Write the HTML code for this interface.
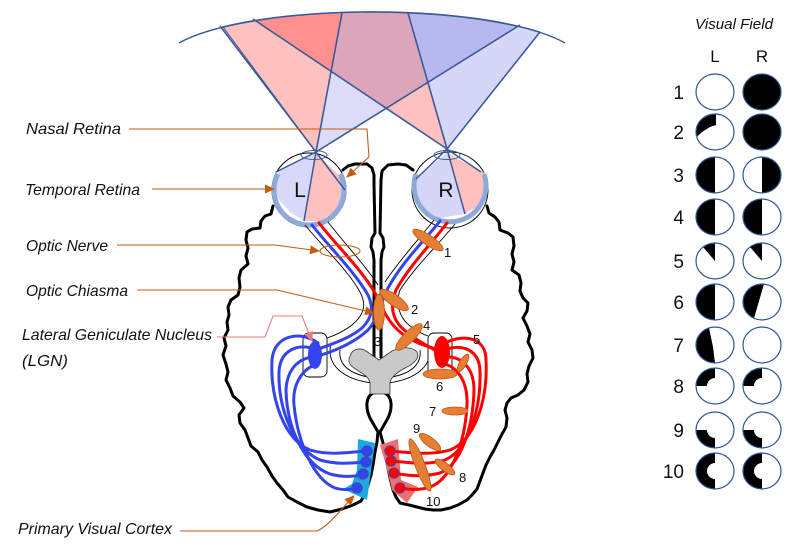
<!DOCTYPE html>
<html><head><meta charset="utf-8"><style>
html,body{margin:0;padding:0;background:#fff;}
svg{display:block;}
.lbl{font-family:"Liberation Sans",sans-serif;font-style:italic;font-size:16px;fill:#111;}
.num{font-family:"Liberation Sans",sans-serif;font-size:13px;fill:#111;}
.rn{font-family:"Liberation Sans",sans-serif;font-size:19px;fill:#111;}
</style></head><body>
<svg width="799" height="545" viewBox="0 0 799 545" xmlns="http://www.w3.org/2000/svg">
<defs>
<clipPath id="fanclip"><path d="M162,63 A210,51 0 0 1 582,63 L582,300 L162,300 Z"/></clipPath>
<marker id="arO" markerWidth="10" markerHeight="9" refX="9" refY="4.5" orient="auto" markerUnits="userSpaceOnUse"><path d="M0,0 L10,4.5 L0,9 Z" fill="#c55a11"/></marker>
<marker id="arP" markerWidth="10" markerHeight="9" refX="9" refY="4.5" orient="auto" markerUnits="userSpaceOnUse"><path d="M0,0 L10,4.5 L0,9 Z" fill="#ee7b7b"/></marker>
</defs>

<!-- Visual field fan -->
<g clip-path="url(#fanclip)">
 <polygon points="316,152 200,0 344,0" fill="#ffc0c0" style="mix-blend-mode:multiply"/>
 <polygon points="316,152 344,0 560,0" fill="#dcdcf8" style="mix-blend-mode:multiply"/>
 <polygon points="447,149 225,0 404,0" fill="#ffc0c0" style="mix-blend-mode:multiply"/>
 <polygon points="447,149 404,0 565,0" fill="#d6d6f8" style="mix-blend-mode:multiply"/>
</g>
<path d="M179,43 A210,51 0 0 1 565,43" fill="none" stroke="#3b5a9a" stroke-width="1.4"/>
<path d="M222,27 A210,51 0 0 1 540,32" fill="none" stroke="#3b5a9a" stroke-width="1"/>
<g stroke="#3b5a9a" stroke-width="1.6" fill="none">
 <line x1="220" y1="26" x2="316" y2="152"/>
 <line x1="223" y1="27" x2="316" y2="152" stroke-width="1"/>
 <line x1="342" y1="13" x2="316" y2="152"/>
 <line x1="520" y1="25" x2="316" y2="152"/>
 <line x1="253" y1="19" x2="447" y2="149"/>
 <line x1="408" y1="13" x2="447" y2="149"/>
 <line x1="540" y1="32" x2="447" y2="149"/>
</g>

<!-- Brain outline -->
<g fill="none" stroke="#000" stroke-width="3" stroke-linejoin="round" stroke-linecap="round">
 <polyline points="273,206 271,214 265,216 261,221 260,228 252,229 247,232 246,240 248,248 246,256 248,264 241,270 239,278 240,287 238,295 231,300 228,307 229,315 227,322 228,330 224,338 226,346 223,355 226,364 228,372 226,380 230,388 233,396 240,402 244,408 239,415 240,423 245,430 248,438 251,446 258,452 262,460 267,467 272,476 277,483 283,490 288,497 297,502 307,507 318,510 330,512 342,509 353,505 361,501 365,494 368,485 371,475 373,465 375,452 377,442 378,432"/>
 <polyline points="487,206 489,213 495,217 499,222 500,230 508,233 513,237 514,246 512,254 514,262 512,270 519,275 521,283 520,291 523,298 528,303 527,311 523,318 527,326 530,334 528,342 532,350 533,358 529,366 527,374 528,382 524,390 518,395 511,398 507,403 505,410 507,418 506,427 502,434 498,442 494,450 490,457 486,465 483,473 480,481 477,489 472,495 467,500 458,505 450,508 441,510 433,510 425,509 417,507 409,505 400,503 396,497 393,490 390,478 387,463 385,452 383,443 380,432"/>
 <polyline points="343,170 348,166 355,164 367,164 372,168 374,175 374,185 375,233 372,238 371,247 373,252 374,260 374,357"/>
 <polyline points="413,170 406,165 398,164 388,165 382,171 381,180 380,233 383,238 384,247 382,252 381,260 381,357"/>
 <path d="M379,392 C365,392 365,407 370,418 L378,432 M379,392 C393,392 393,407 388,418 L380,432"/>
</g>

<!-- Eyes -->
<circle cx="309" cy="190" r="37" fill="#fff" stroke="#000" stroke-width="1"/>
<circle cx="450" cy="190" r="38" fill="#fff" stroke="#000" stroke-width="1"/>
<polygon points="316,153 276,172 273,186 279,200 290,212 304,221" fill="#d8d8f8"/>
<polygon points="316,153 304,221 320,221 334,212 342,197 345,181" fill="#ffc0c0"/>
<polygon points="447,153 415,179 416,195 425,210 440,218 465,214" fill="#d6d6f8"/>
<polygon points="447,153 465,214 478,206 485,191 486,174" fill="#ffc0c0"/>
<path d="M277.8,174.1 A35,35 0 1 0 340.2,174.1" fill="none" stroke="#8eaadb" stroke-width="5"/>
<path d="M416,174 A36,36 0 1 0 484,174" fill="none" stroke="#8eaadb" stroke-width="5"/>
<g stroke="#3b5a9a" stroke-width="1.5" fill="none">
 <line x1="316" y1="152" x2="345" y2="190"/>
 <line x1="316" y1="152" x2="304" y2="221"/>
 <line x1="316" y1="152" x2="276" y2="172"/>
 <line x1="447" y1="149" x2="481" y2="172"/>
 <line x1="447" y1="149" x2="465" y2="214"/>
 <line x1="447" y1="149" x2="416" y2="179"/>
 <ellipse cx="314" cy="155" rx="13" ry="4.5" stroke-width="1"/>
 <ellipse cx="447" cy="155" rx="13" ry="4.5" stroke-width="1"/>
</g>
<text x="300" y="197" font-family="Liberation Sans, sans-serif" font-size="21" text-anchor="middle" fill="#111">L</text>
<text x="446" y="197" font-family="Liberation Sans, sans-serif" font-size="21" text-anchor="middle" fill="#111">R</text>

<!-- thin outline lines of nerves/tracts -->
<g fill="none" stroke="#000" stroke-width="0.9">
 <path d="M305,225 C322,246 348,270 360,292 C367,305 364,315 352,325 C343,332 333,336 327,338"/>
 <path d="M328,222 C345,244 366,266 378,285"/>
 <path d="M455,224 C438,245 414,268 400,290 C395,305 400,318 410,326 C418,332 425,335 428,336"/>
 <path d="M434,220 C418,240 398,262 385,282"/>
 <path d="M331,343 C325,368 348,380 372,383"/>
 <path d="M340,350 C338,366 352,374 368,377"/>
 <path d="M429,343 C435,368 412,380 388,383"/>
 <path d="M420,350 C422,366 408,374 392,377"/>
</g>

<!-- LGN boxes -->
<rect x="303" y="333" width="24" height="44" rx="6" fill="#fff" stroke="#000" stroke-width="0.9"/>
<rect x="428" y="333" width="24" height="44" rx="6" fill="#fff" stroke="#000" stroke-width="0.9"/>

<!-- gray ventricle -->
<path d="M350,356 C352,349 360,347 366,351 L379,360 L392,351 C400,347 412,346 417,352 C420,358 414,364 405,368 C398,372 392,376 390,382 L390,394 L370,394 L370,382 C368,376 360,372 354,368 C348,364 348,360 350,356 Z" fill="#c9c9c9" stroke="#333" stroke-width="0.8"/>

<!-- cortex patches -->
<polygon points="358,439 375,443 367,500 343,489 352,484 357,470" fill="#1ba9e1"/>
<polygon points="380,445 398,439 401,480 418,487 407,503 392,490 386,465" fill="#ec7070"/>

<!-- optic fibers -->
<g fill="none" stroke-width="3" stroke-linecap="round">
 <path stroke="#3344ee" d="M312,225 C330,248 355,272 368,295 C374,308 372,318 362,328 C350,338 335,343 316,350"/>
 <path stroke="#3344ee" d="M440,221 C425,240 402,262 388,288 C380,305 377,320 368,330 C355,342 338,350 318,356"/>
 <path stroke="#ff0000" d="M319,223 C337,246 362,270 375,293 C382,308 388,322 400,332 C412,342 425,346 440,350"/>
 <path stroke="#ff0000" d="M447,223 C432,243 410,265 396,290 C390,305 392,318 402,328 C415,340 428,346 442,354"/>
 <path stroke="#3344ee" d="M318,343 C300,330 274,335 272,360 C270,400 285,440 310,450 C330,456 350,452 367,451"/>
 <path stroke="#3344ee" d="M318,350 C298,342 280,350 279,372 C278,410 295,450 320,460 C338,465 352,463 366,462"/>
 <path stroke="#3344ee" d="M318,357 C300,356 287,368 286,390 C287,430 305,465 330,474 C345,478 355,476 363,475"/>
 <path stroke="#3344ee" d="M318,364 C302,368 292,385 294,405 C298,445 315,480 335,488 C345,491 352,489 358,488"/>
 <path stroke="#ff0000" d="M445,343 C465,333 486,338 486,360 C488,400 475,440 450,450 C430,456 405,452 390,451"/>
 <path stroke="#ff0000" d="M445,350 C462,343 480,350 480,372 C481,410 468,450 445,460 C425,466 405,462 392,461"/>
 <path stroke="#ff0000" d="M445,357 C460,356 474,366 474,390 C473,430 460,465 440,473 C420,478 405,475 394,473"/>
 <path stroke="#ff0000" d="M445,364 C458,368 468,382 467,405 C465,445 450,480 430,487 C418,491 408,489 400,488"/>
</g>
<ellipse cx="315" cy="355" rx="7" ry="14" fill="#3344ee"/>
<ellipse cx="442" cy="352" rx="8" ry="16" fill="#ff0000"/>

<!-- dots -->
<g stroke="#3b4aa8" stroke-width="0.9">
 <circle cx="367" cy="451" r="5.2" fill="#3344ee"/>
 <circle cx="366" cy="462" r="5.2" fill="#3344ee"/>
 <circle cx="363" cy="474" r="5.2" fill="#3344ee"/>
 <circle cx="357" cy="488" r="5.2" fill="#3344ee"/>
 <circle cx="390" cy="451" r="5.2" fill="#ff0000"/>
 <circle cx="391" cy="461" r="5.2" fill="#ff0000"/>
 <circle cx="394" cy="473" r="5.2" fill="#ff0000"/>
 <circle cx="400" cy="488" r="5.2" fill="#ff0000"/>
</g>

<!-- lesions -->
<g fill="#e67e33" stroke="#b45a18" stroke-width="0.8">
 <ellipse cx="428" cy="240" rx="18" ry="5" transform="rotate(34 428 240)"/>
 <ellipse cx="394" cy="300" rx="17" ry="5.5" transform="rotate(35 394 300)"/>
 <ellipse cx="379" cy="312" rx="5.5" ry="18"/>
 <ellipse cx="409" cy="337" rx="18" ry="5.5" transform="rotate(-45 409 337)"/>
 <ellipse cx="463" cy="363" rx="10" ry="3.5" transform="rotate(-60 463 363)"/>
 <ellipse cx="440" cy="374" rx="17" ry="5"/>
 <ellipse cx="455" cy="411" rx="13" ry="4"/>
 <ellipse cx="430" cy="442" rx="13" ry="4.5" transform="rotate(37 430 442)"/>
 <ellipse cx="445" cy="467" rx="12" ry="4" transform="rotate(37 445 467)"/>
 <ellipse cx="420" cy="465" rx="28" ry="5" transform="rotate(69 420 465)"/>
</g>
<text class="num" x="444" y="257">1</text>
<text class="num" x="411" y="314">2</text>
<text class="num" x="374" y="346">3</text>
<text class="num" x="423" y="330">4</text>
<text class="num" x="473" y="344">5</text>
<text class="num" x="436" y="391">6</text>
<text class="num" x="429" y="416">7</text>
<text class="num" x="459" y="482">8</text>
<text class="num" x="413" y="433">9</text>
<text class="num" x="426" y="506">10</text>

<!-- labels & arrows -->
<text class="lbl" x="26" y="134" textLength="95" lengthAdjust="spacingAndGlyphs">Nasal Retina</text>
<text class="lbl" x="25" y="195" textLength="115" lengthAdjust="spacingAndGlyphs">Temporal Retina</text>
<text class="lbl" x="26" y="251" textLength="82" lengthAdjust="spacingAndGlyphs">Optic Nerve</text>
<text class="lbl" x="26" y="296" textLength="102" lengthAdjust="spacingAndGlyphs">Optic Chiasma</text>
<text class="lbl" x="22" y="340" textLength="190" lengthAdjust="spacingAndGlyphs">Lateral Geniculate Nucleus</text>
<text class="lbl" x="22" y="366" textLength="46" lengthAdjust="spacingAndGlyphs">(LGN)</text>
<text class="lbl" x="18" y="534" textLength="154" lengthAdjust="spacingAndGlyphs">Primary Visual Cortex</text>

<g fill="none" stroke="#c55a11" stroke-width="1.1">
 <polyline points="129,129 367,129 369,157 347,177" marker-end="url(#arO)"/>
 <polyline points="152,189 274,189" marker-end="url(#arO)"/>
 <polyline points="117,245 275,245 319,251" marker-end="url(#arO)"/>
 <ellipse cx="340" cy="251" rx="20" ry="6"/>
 <polyline points="137,290 277,290 374,313" marker-end="url(#arO)"/>
 <path d="M180,531 L317,531 C330,525 340,510 354,496" marker-end="url(#arO)"/>
</g>
<polyline points="217,337 265,337 273,316 302,316 312,341" fill="none" stroke="#ee7b7b" stroke-width="1.1" marker-end="url(#arP)"/>

<!-- Visual field panel -->
<text class="lbl" x="695" y="29" font-size="15" textLength="78" lengthAdjust="spacingAndGlyphs" style="font-size:15px">Visual Field</text>
<text x="715" y="62" font-family="Liberation Sans, sans-serif" font-size="17" text-anchor="middle" fill="#111">L</text>
<text x="762" y="62" font-family="Liberation Sans, sans-serif" font-size="17" text-anchor="middle" fill="#111">R</text>

<g text-anchor="end">
 <text class="rn" x="684" y="99">1</text>
 <text class="rn" x="684" y="139">2</text>
 <text class="rn" x="684" y="182">3</text>
 <text class="rn" x="684" y="224">4</text>
 <text class="rn" x="684" y="268">5</text>
 <text class="rn" x="684" y="309">6</text>
 <text class="rn" x="684" y="352">7</text>
 <text class="rn" x="684" y="393">8</text>
 <text class="rn" x="684" y="437">9</text>
 <text class="rn" x="684" y="478">10</text>
</g>

<!-- row 1 -->
<g transform="translate(762,92)"><ellipse rx="19" ry="18" fill="#000"/></g>
<!-- row 2 -->
<g transform="translate(715,132)"><path d="M1,-18 A19,18 0 0 0 -18.5,5 L-13,0 L-5,-5 L1,-7 Z" fill="#000"/></g>
<g transform="translate(762,132)"><ellipse rx="19" ry="18" fill="#000"/></g>
<!-- row 3 -->
<g transform="translate(715,175)"><path d="M0,-18 A19,18 0 0 0 0,18 Z" fill="#000"/></g>
<g transform="translate(762,175)"><path d="M0,-18 A19,18 0 0 1 0,18 Z" fill="#000"/></g>
<!-- row 4 -->
<g transform="translate(715,217)"><path d="M0,-18 A19,18 0 0 0 0,18 Z" fill="#000"/></g>
<g transform="translate(762,217)"><path d="M0,-18 A19,18 0 0 0 0,18 Z" fill="#000"/></g>
<!-- row 5 -->
<g transform="translate(715,261)"><path d="M0,0 L0,-18 A19,18 0 0 0 -12,-14 Z" fill="#000"/></g>
<g transform="translate(762,261)"><path d="M0,0 L0,-18 A19,18 0 0 0 -12,-14 Z" fill="#000"/></g>
<!-- row 6 -->
<g transform="translate(715,302)"><path d="M0,-18 A19,18 0 0 0 0,18 Z" fill="#000"/></g>
<g transform="translate(762,302)"><path d="M2,-18 A19,18 0 0 0 -8,16.3 Z" fill="#000"/></g>
<!-- row 7 -->
<g transform="translate(715,345)"><path d="M-6,-17 L-2,2 L0,18 A19,18 0 0 1 -6,-17 Z" fill="#000"/></g>
<!-- row 8 -->
<g transform="translate(715,386)"><path d="M0,-18 A19,18 0 0 0 -19,0 L-8,0 A8,8 0 0 1 0,-8 Z" fill="#000"/></g>
<g transform="translate(762,386)"><path d="M0,-18 A19,18 0 0 0 -19,0 L-8,0 A8,8 0 0 1 0,-8 Z" fill="#000"/></g>
<!-- row 9 -->
<g transform="translate(715,430)"><path d="M-19,0 A19,18 0 0 0 0,18 L0,8 A8,8 0 0 1 -8,0 Z" fill="#000"/></g>
<g transform="translate(762,430)"><path d="M-19,0 A19,18 0 0 0 0,18 L0,8 A8,8 0 0 1 -8,0 Z" fill="#000"/></g>
<!-- row 10 -->
<g transform="translate(715,471)"><path d="M0,-18 A19,18 0 0 0 0,18 L0,8 A8,8 0 0 1 0,-8 Z" fill="#000"/></g>
<g transform="translate(762,471)"><path d="M0,-18 A19,18 0 0 0 0,18 L0,8 A8,8 0 0 1 0,-8 Z" fill="#000"/></g>

<g fill="none" stroke="#2f5597" stroke-width="1.2">
 <ellipse cx="715" cy="92" rx="19" ry="18"/><ellipse cx="762" cy="92" rx="19" ry="18"/>
 <ellipse cx="715" cy="132" rx="19" ry="18"/><ellipse cx="762" cy="132" rx="19" ry="18"/>
 <ellipse cx="715" cy="175" rx="19" ry="18"/><ellipse cx="762" cy="175" rx="19" ry="18"/>
 <ellipse cx="715" cy="217" rx="19" ry="18"/><ellipse cx="762" cy="217" rx="19" ry="18"/>
 <ellipse cx="715" cy="261" rx="19" ry="18"/><ellipse cx="762" cy="261" rx="19" ry="18"/>
 <ellipse cx="715" cy="302" rx="19" ry="18"/><ellipse cx="762" cy="302" rx="19" ry="18"/>
 <ellipse cx="715" cy="345" rx="19" ry="18"/><ellipse cx="762" cy="345" rx="19" ry="18"/>
 <ellipse cx="715" cy="386" rx="19" ry="18"/><ellipse cx="762" cy="386" rx="19" ry="18"/>
 <ellipse cx="715" cy="430" rx="19" ry="18"/><ellipse cx="762" cy="430" rx="19" ry="18"/>
 <ellipse cx="715" cy="471" rx="19" ry="18"/><ellipse cx="762" cy="471" rx="19" ry="18"/>
</g>
</svg>
</body></html>
